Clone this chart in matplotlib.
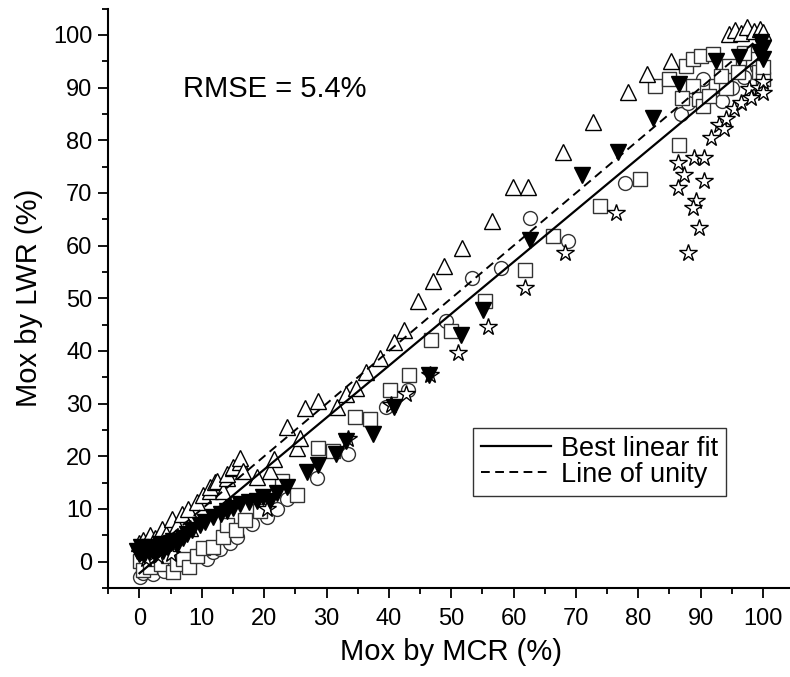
import matplotlib
matplotlib.use("Agg")
import matplotlib.pyplot as plt
from matplotlib.ticker import MultipleLocator

plt.rcParams['font.family'] = ['Liberation Sans', 'DejaVu Sans']

# open triangles (up)
tri_x = [0.0, 0.5, 1.0, 1.7, 2.5, 3.6, 4.2, 5.2, 6.0, 6.8, 7.8, 8.1, 9.2, 10.2,
         11.3, 11.3, 12.1, 12.4, 13.4, 14.0, 14.0, 15.0, 15.0, 16.1, 16.1, 16.6,
         18.8, 20.9, 21.5, 23.6, 25.2, 25.7, 26.5, 28.7, 31.6, 33.2, 34.7, 36.4,
         38.6, 40.8, 42.4, 44.7, 47.1, 48.8, 51.7, 56.6, 59.9, 62.3, 67.9, 72.7,
         78.4, 81.4, 85.3, 94.6, 95.5, 96.5, 97.4, 98.5, 99.5, 100.0]
tri_y = [3.5, 4.2, 3.0, 5.0, 4.5, 6.2, 5.2, 8.1, 7.0, 9.1, 10.0, 6.3, 11.3, 12.6,
         13.5, 14.2, 15.1, 15.4, 13.5, 15.8, 16.7, 17.7, 18.0, 18.9, 19.6, 17.3,
         16.1, 17.3, 19.5, 25.6, 21.5, 23.4, 29.1, 30.5, 29.4, 31.9, 32.9, 36.1,
         38.7, 41.8, 44.0, 49.5, 53.2, 56.1, 59.6, 64.6, 71.2, 71.2, 77.7, 83.4,
         89.1, 92.6, 95.1, 100.2, 101.0, 100.4, 101.5, 100.8, 101.2, 100.5]

# filled inverted triangles
inv_x = [-0.4, 0.0, 0.3, 0.8, 1.2, 1.5, 2.0, 2.5, 3.0, 3.3, 3.8, 4.5, 5.0, 5.4,
         6.0, 7.0, 7.6, 8.5, 9.7, 10.5, 11.8, 13.0, 14.0, 15.0, 16.1, 17.5,
         18.8, 19.8, 20.9, 22.0, 23.6, 26.8, 28.7, 31.5, 33.2, 37.5, 40.8, 46.4,
         51.6, 55.1, 62.6, 70.9, 76.7, 82.3, 86.6, 92.5, 96.2, 99.4, 99.7, 100.0,
         100.0]
inv_y = [2.1, 1.5, 2.8, 1.2, 2.7, 1.8, 2.3, 1.5, 2.6, 3.4, 2.0, 2.8, 3.5, 4.0,
         3.2, 4.5, 5.3, 6.0, 6.9, 7.5, 8.4, 9.0, 9.7, 10.2, 11.0, 11.3,
         11.6, 12.2, 11.6, 13.0, 14.2, 17.0, 18.3, 20.5, 23.0, 24.3, 29.3, 35.4,
         43.0, 47.8, 61.1, 73.5, 77.7, 84.3, 90.7, 95.1, 95.8, 96.7, 98.6, 95.4,
         97.5]

# open squares
sq_x = [0.1, 0.5, 1.7, 2.5, 3.5, 4.5, 5.4, 6.0, 7.0, 8.0, 9.2, 10.2, 11.8, 13.4,
        14.0, 15.5, 17.0, 19.3, 22.8, 25.2, 28.7, 31.0, 34.5, 36.9, 40.1, 43.3,
        46.8, 50.0, 55.4, 61.8, 66.3, 73.8, 80.2, 86.6, 82.7, 85.0, 87.7, 88.8,
        90.1, 92.0, 88.8, 89.8, 90.4, 92.5, 94.1, 94.6, 98.4, 99.4, 100.0, 91.4,
        93.3, 96.0, 97.0, 87.0, 100.0]
sq_y = [0.2, -1.5, -1.1, 0.5, -0.5, 1.0, -2.0, -0.4, 0.5, -1.0, 1.1, 2.5, 2.7, 4.6,
        6.9, 6.0, 8.0, 9.7, 15.4, 12.6, 21.5, 21.1, 27.5, 27.0, 32.6, 35.4,
        42.1, 43.7, 49.4, 55.4, 61.9, 67.5, 72.6, 79.2, 90.3, 91.6, 94.2, 95.4,
        96.1, 96.4, 90.3, 87.8, 86.5, 90.3, 90.0, 94.2, 95.4, 92.9, 91.6, 88.4,
        92.2, 93.0, 96.5, 88.0, 94.0]

# open circles
cir_x = [0.1, 0.6, 1.2, 2.2, 3.0, 4.0, 5.0, 6.5, 8.0, 9.0, 10.8, 11.8, 12.9, 14.5,
         15.6, 18.0, 20.4, 22.0, 23.6, 28.4, 33.5, 39.6, 43.1, 49.1, 53.3, 58.0,
         62.6, 68.7, 77.8, 86.9, 88.0, 90.4, 93.5, 95.0, 97.0, 99.0]
cir_y = [-3.0, -2.2, -1.5, -2.3, -1.0, -1.8, 0.0, 0.5, 0.0, 1.0, 0.5, 1.8, 2.4, 3.5,
         4.6, 7.2, 8.4, 10.0, 11.9, 15.8, 20.5, 29.4, 32.6, 45.6, 53.8, 55.8,
         65.3, 60.8, 71.9, 85.0, 87.0, 91.6, 87.5, 90.0, 92.0, 94.0]

# open stars
st_x = [1.0, 3.0, 5.0, 20.5, 33.5, 40.3, 42.8, 46.6, 51.1, 55.9, 61.8, 68.2, 76.5,
        86.3, 87.4, 86.3, 89.0, 90.6, 90.6, 89.3, 88.8, 89.7, 87.9, 91.7, 93.0,
        93.8, 94.1, 95.4, 96.5, 97.8, 98.1, 99.4, 100.0, 100.0]
st_y = [0.5, 1.0, 1.5, 10.0, 23.3, 29.8, 31.9, 35.4, 39.6, 44.6, 51.9, 58.6, 66.2,
        71.0, 73.5, 75.7, 76.7, 76.7, 72.3, 68.4, 67.2, 63.4, 58.6, 80.5, 83.0,
        82.1, 84.0, 85.9, 87.0, 89.7, 88.1, 90.0, 91.0, 89.0]

fit_x = [0, 100]
fit_y = [-2.2, 96.3]
unity_x = [0, 100]
unity_y = [0, 100]

fig = plt.figure(figsize=(7.9, 6.77), dpi=100)
ax = fig.add_axes([0.1371, 0.1315, 0.8682, 0.8557])

mk = dict(ls='none', mfc='white', mew=1.0, zorder=2)
ax.plot(cir_x, cir_y, marker='o', ms=10, mec='#333333', **mk)
ax.plot(sq_x, sq_y, marker='s', ms=9.5, mec='#333333', **mk)
ax.plot(st_x, st_y, marker='*', ms=13, mec='black', **mk)
ax.plot(tri_x, tri_y, marker='^', ms=12, mec='black', **mk)
ax.plot(inv_x, inv_y, ls='none', marker='v', ms=11.5, mfc='black', mec='black', zorder=2)

fit, = ax.plot(fit_x, fit_y, color='black', lw=1.6, zorder=3, label='Best linear fit')
uni, = ax.plot(unity_x, unity_y, color='black', lw=1.4, ls=(0, (4.5, 2.8)), zorder=3,
               label='Line of unity')

ax.text(7, 89.7, 'RMSE = 5.4%', fontsize=21, va='center', ha='left')

ax.set_xlim(-5, 105)
ax.set_ylim(-5, 105)
ax.xaxis.set_major_locator(MultipleLocator(10))
ax.xaxis.set_minor_locator(MultipleLocator(5))
ax.yaxis.set_major_locator(MultipleLocator(10))
ax.yaxis.set_minor_locator(MultipleLocator(5))
ax.spines['top'].set_visible(False)
ax.spines['right'].set_visible(False)
ax.spines['left'].set_linewidth(1.5)
ax.spines['bottom'].set_linewidth(1.5)
ax.tick_params(which='major', direction='out', length=7.5, width=1.3, labelsize=17)
ax.tick_params(which='minor', direction='out', length=4.5, width=1.3)
ax.tick_params(axis='x', which='major', pad=7)
ax.tick_params(axis='y', which='major', pad=4)

ax.set_xlabel('Mox by MCR (%)', fontsize=21, labelpad=6)
ax.set_ylabel('Mox by LWR (%)', fontsize=21, labelpad=7)

leg = ax.legend(handles=[fit, uni], loc='lower right', bbox_to_anchor=(0.9006, 0.1588),
                fontsize=19.5, frameon=True, fancybox=False, shadow=False,
                handlelength=2.6, handletextpad=0.35, labelspacing=0.0,
                borderpad=0.3, borderaxespad=0)
leg.get_frame().set_edgecolor('black')
leg.get_frame().set_linewidth(1.0)

fig.savefig('out.png', dpi=100)
